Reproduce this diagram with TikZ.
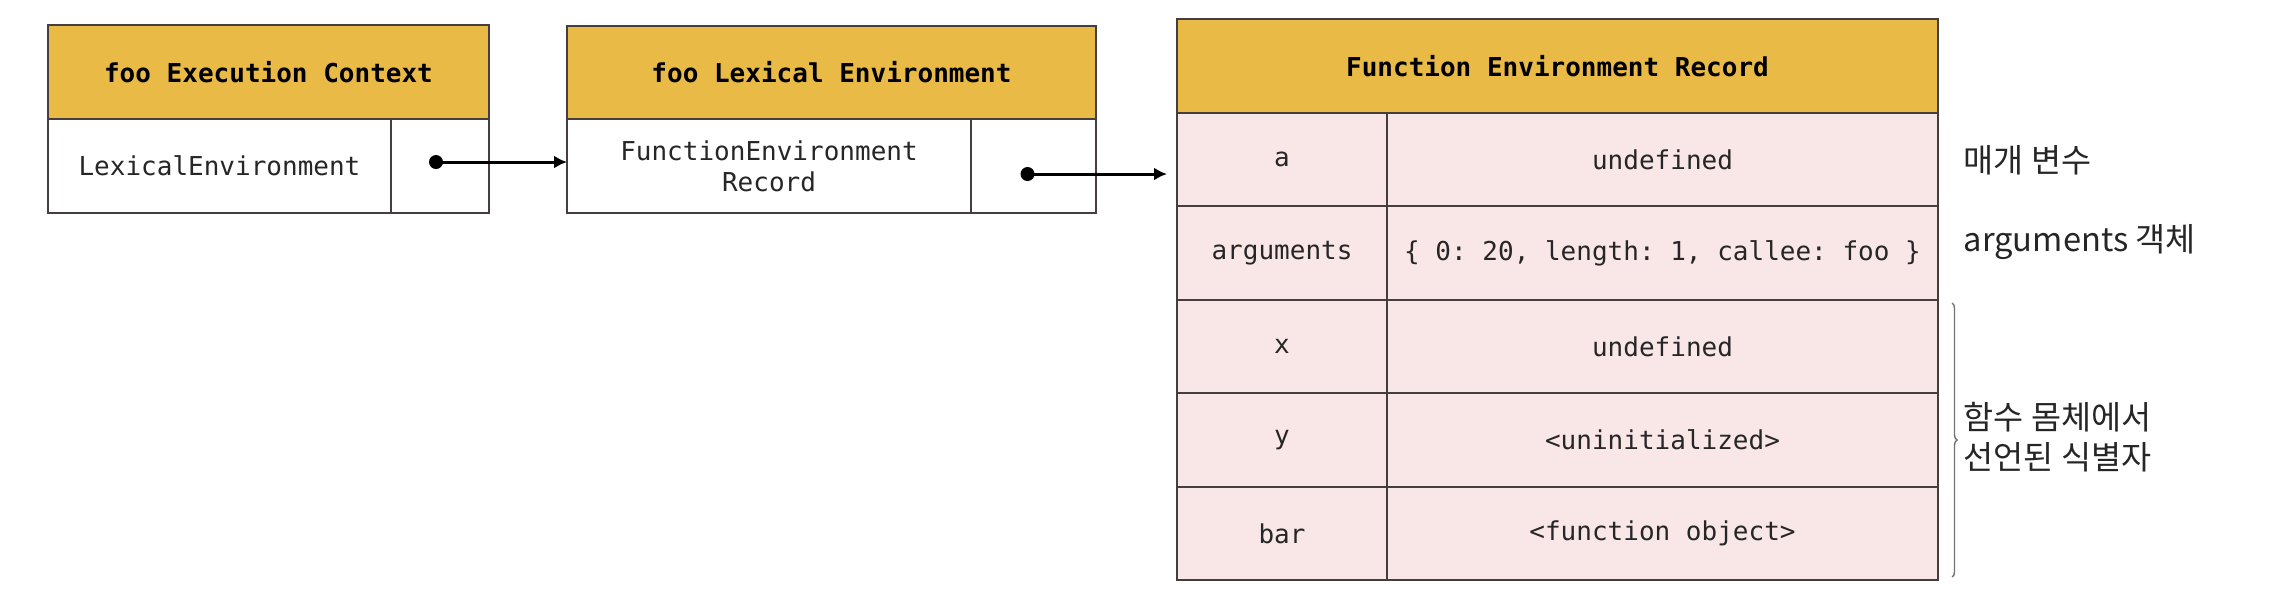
\documentclass[tikz,border=0pt]{standalone}
\usepackage{fontspec}
\setmonofont{DejaVu Sans Mono}
\newfontfamily\kofont{Noto Sans CJK KR}
\usetikzlibrary{arrows.meta,positioning,decorations.pathreplacing}
\definecolor{headgold}{RGB}{233,187,70}
\definecolor{recpink}{RGB}{249,231,231}
\definecolor{boxline}{RGB}{70,62,62}
\tikzset{
    box/.style={draw=boxline, line width=0.6pt, inner sep=0pt, outer sep=0pt,
        text=black!85, font=\ttfamily\fontsize{7.4}{8.8}\selectfont},
    headbox/.style={box, fill=headgold, text=black,
        font=\ttfamily\bfseries\fontsize{7.4}{8.8}\selectfont},
    cellbox/.style={box, fill=white},
    recbox/.style={box, fill=recpink, minimum height=0.934cm},
    pointer/.style={line width=0.85pt, -{Latex[length=1.3mm,width=1.3mm]}},
    note/.style={font=\kofont\fontsize{9.3}{11.4}\selectfont, anchor=west,
        inner sep=0pt, align=left, text=black!85},
}

\begin{document}
\begin{tikzpicture}
    \useasboundingbox (0,0) rectangle (22.78,-6.08);

    % Execution context
    \node[headbox, minimum width=4.41cm, minimum height=0.94cm, anchor=north west]
        (ecHead) at (0.48,-0.25) {foo Execution Context};
    \node[cellbox, minimum width=3.43cm, minimum height=0.94cm, anchor=north west]
        (ecLex) at (ecHead.south west) {LexicalEnvironment};
    \node[cellbox, minimum width=0.98cm, minimum height=0.94cm, anchor=north west]
        (ecRef) at (ecLex.north east) {};

    % Lexical environment
    \node[headbox, minimum width=5.29cm, minimum height=0.93cm, anchor=north west]
        (leHead) at (5.67,-0.26) {foo Lexical Environment};
    \node[cellbox, minimum width=4.04cm, minimum height=0.94cm, anchor=north west,
        align=center] (leRec) at (leHead.south west) {FunctionEnvironment\\Record};
    \node[cellbox, minimum width=1.25cm, minimum height=0.94cm, anchor=north west]
        (leRef) at (leRec.north east) {};

    % Function environment record
    \node[headbox, minimum width=7.61cm, minimum height=0.94cm, anchor=north west]
        (frHead) at (11.77,-0.19) {Function Environment Record};
    \node[recbox, minimum width=2.10cm, anchor=north west] (frA) at (frHead.south west) {a};
    \node[recbox, minimum width=5.51cm, anchor=north west] (frAv) at (frA.north east) {undefined};
    \node[recbox, minimum width=2.10cm, anchor=north west] (frArg) at (frA.south west) {arguments};
    \node[recbox, minimum width=5.51cm, anchor=north west] (frArgv) at (frArg.north east)
        {\{ 0: 20, length: 1, callee: foo \}};
    \node[recbox, minimum width=2.10cm, anchor=north west] (frX) at (frArg.south west) {x};
    \node[recbox, minimum width=5.51cm, anchor=north west] (frXv) at (frX.north east) {undefined};
    \node[recbox, minimum width=2.10cm, anchor=north west] (frY) at (frX.south west) {y};
    \node[recbox, minimum width=5.51cm, anchor=north west] (frYv) at (frY.north east) {<uninitialized>};
    \node[recbox, minimum width=2.10cm, anchor=north west] (frBar) at (frY.south west) {bar};
    \node[recbox, minimum width=5.51cm, anchor=north west] (frBarv) at (frBar.north east) {<function object>};

    % Pointers
    \coordinate (ecDot) at ([xshift=-0.04cm,yshift=0.04cm]ecRef.center);
    \coordinate (leDot) at ([xshift=-0.06cm,yshift=-0.08cm]leRef.center);
    \coordinate (frIn) at ([xshift=-0.1cm]frA.west |- leDot);
    \fill (ecDot) circle (0.07cm);
    \draw[pointer] (ecDot) -- (leRec.west |- ecDot);
    \fill (leDot) circle (0.07cm);
    \draw[pointer] (leDot) -- (frIn);

    % Notes
    \node[note] (noteParam) at (19.63,-1.60) {매개 변수};
    \node[note] (noteArgs) at (19.63,-2.42) {arguments 객체};
    \coordinate (braceTop) at (19.52,-3.03);
    \coordinate (braceBot) at (19.52,-5.77);
    \draw[black!55, line width=0.4pt, decorate, decoration={brace, amplitude=0.05cm}]
        (braceTop) -- (braceBot);
    \node[note] (noteBody) at (19.63,-4.37) {함수 몸체에서\\선언된 식별자};
\end{tikzpicture}
\end{document}
